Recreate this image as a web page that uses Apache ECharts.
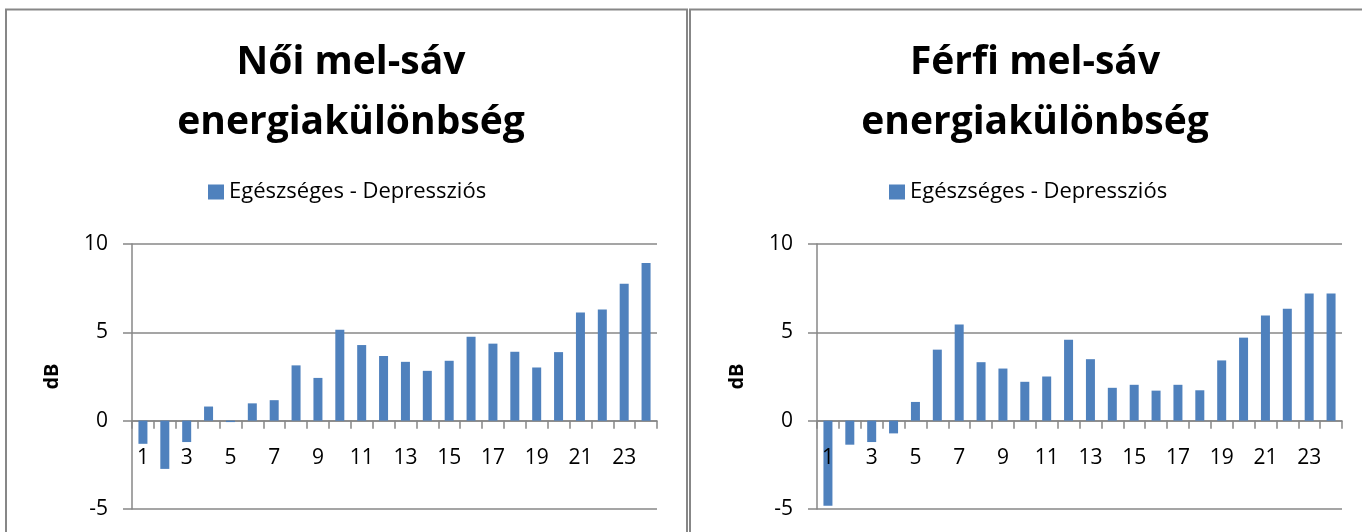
<!DOCTYPE html>
<html>
<head>
<meta charset="utf-8">
<script src="https://cdn.jsdelivr.net/npm/echarts@6/dist/echarts.min.js"></script>
<style>
html,body{margin:0;padding:0;background:#fff;}
#c{width:1362px;height:532px;}
</style>
</head>
<body>
<div id="c"></div>
<script>
const categories = ['1','2','3','4','5','6','7','8','9','10','11','12','13','14','15','16','17','18','19','20','21','22','23','24'];
const seriesName = 'Egészséges - Depressziós';
const femaleValues = [-1.31,-2.73,-1.21,0.80,-0.08,0.98,1.16,3.13,2.42,5.15,4.28,3.66,3.33,2.82,3.39,4.75,4.36,3.90,3.01,3.88,6.12,6.29,7.75,8.92];
const maleValues = [-4.81,-1.36,-1.21,-0.72,1.06,4.02,5.45,3.31,2.95,2.20,2.50,4.58,3.48,1.86,2.03,1.70,2.03,1.72,3.41,4.70,5.95,6.34,7.20,7.20];
const titles = ['Női mel-sáv\nenergiakülönbség', 'Férfi mel-sáv\nenergiakülönbség'];
const yTicks = {min: -5, max: 10, interval: 5};
const yName = 'dB';

const FONT = 'Open Sans';
const gray = '#878787';
const GRID_H = 265;
const grids = [
  {left:132, top:244, width:525, height:GRID_H, outerBoundsMode:'none', containLabel:false},
  {left:817, top:244, width:525, height:GRID_H, outerBoundsMode:'none', containLabel:false}
];
const centers = [346, 1030];
const legendLeft = [203, 884];
// distance from grid bottom to the zero line, derived from the axis range
const zeroOffset = -GRID_H * (0 - yTicks.min) / (yTicks.max - yTicks.min);

function xAxisLine(i){
  return {
    type:'category', gridIndex:i, data:categories, position:'bottom',
    axisLine:{onZero:true, lineStyle:{color:gray, width:1.5}},
    axisTick:{show:true, interval:0, length:8, lineStyle:{color:gray, width:1.5}},
    axisLabel:{show:false}
  };
}
function xAxisLabels(i){
  return {
    type:'category', gridIndex:i, data:categories, position:'bottom', offset:zeroOffset, z:5,
    axisLine:{show:false, onZero:false}, axisTick:{show:false}, splitLine:{show:false},
    axisLabel:{interval:1, fontSize:21, color:'#000', fontFamily:FONT, margin:27, hideOverlap:false}
  };
}
function yAxis(i){
  return {
    type:'value', gridIndex:i, min:yTicks.min, max:yTicks.max, interval:yTicks.interval,
    name:yName, nameLocation:'middle', nameGap:70, nameRotate:90,
    nameTextStyle:{fontSize:20, fontWeight:'bold', color:'#000', fontFamily:FONT},
    axisLine:{show:true, lineStyle:{color:gray, width:1.5}},
    axisTick:{show:true, length:9, lineStyle:{color:gray, width:1.5}},
    splitLine:{show:true, lineStyle:{color:gray, width:1.5}},
    axisLabel:{fontSize:21, color:'#000', fontFamily:FONT, margin:24}
  };
}

const chart = echarts.init(document.getElementById('c'), null, {renderer:'canvas'});
chart.setOption({
  animation:false,
  backgroundColor:'#fff',
  title: titles.map((t,i)=>({
    text:t, left:centers[i], top:28, textAlign:'center',
    textStyle:{fontSize:39, fontWeight:'bold', color:'#000', fontFamily:FONT, lineHeight:60}
  })),
  legend: [0,1].map(i=>({
    seriesIndex:i, data:[seriesName], left:legendLeft[i], top:176,
    icon:'rect', itemWidth:16, itemHeight:15, itemGap:6,
    textStyle:{fontSize:22, color:'#000', fontFamily:FONT}, selectedMode:false
  })),
  grid: grids,
  xAxis: [xAxisLine(0), xAxisLine(1), xAxisLabels(0), xAxisLabels(1)],
  yAxis: [yAxis(0), yAxis(1)],
  series: [
    {name:seriesName, type:'bar', xAxisIndex:0, yAxisIndex:0, data:femaleValues, barWidth:9, z:2, itemStyle:{color:'#4F81BD'}},
    {name:seriesName, type:'bar', xAxisIndex:1, yAxisIndex:1, data:maleValues, barWidth:9, z:2, itemStyle:{color:'#4F81BD'}}
  ],
  graphic: [
    {type:'rect', shape:{x:6, y:9.5, width:681, height:540}, style:{fill:null, stroke:gray, lineWidth:2}, silent:true},
    {type:'rect', shape:{x:690, y:9.5, width:700, height:540}, style:{fill:null, stroke:gray, lineWidth:2}, silent:true}
  ]
});
</script>
</body>
</html>
